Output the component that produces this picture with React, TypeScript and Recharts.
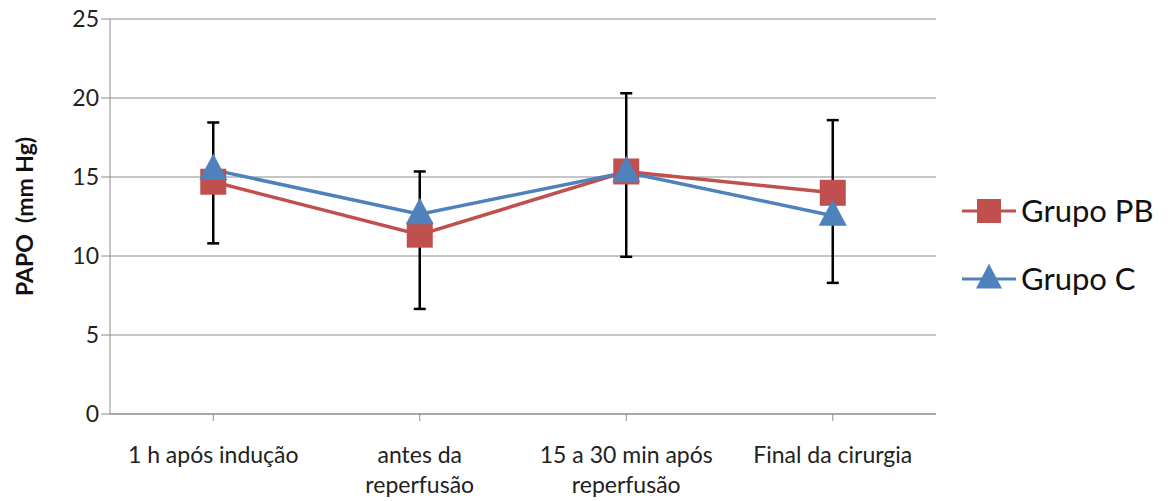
import { LineChart, Line, XAxis, YAxis, CartesianGrid, ErrorBar, Legend } from 'recharts';

const categories = ['1 h após indução', 'antes da\nreperfusão', '15 a 30 min após\nreperfusão', 'Final da cirurgia'];
const grupoPB = [14.7, 11.35, 15.35, 14.0];
const grupoC = [15.45, 12.65, 15.3, 12.55];
// asymmetric error bars on Grupo PB: [below, above]
const pbErrLow = [3.9, 4.7, 5.4, 5.7];
const pbErrHigh = [3.75, 4.0, 4.95, 4.6];
const yTicks = [0, 5, 10, 15, 20, 25];

const RED = '#C0504D';
const BLUE = '#4F81BD';
const FONT = 'Lato, "Open Sans", sans-serif';

const data = categories.map((name, i) => ({
    name,
    pb: grupoPB[i],
    c: grupoC[i],
    pbErr: [pbErrLow[i], pbErrHigh[i]],
}));

function Square({ cx, cy, size = 26 }: { cx: number; cy: number; size?: number }) {
    return <rect x={cx - size / 2} y={cy - size / 2} width={size} height={size} fill={RED} />;
}

function Triangle({ cx, cy, size = 28 }: { cx: number; cy: number; size?: number }) {
    const h = size * 0.95;
    const top = cy - h * 0.62;
    const bottom = cy + h * 0.38;
    return (
        <polygon
            points={`${cx},${top} ${cx - size / 2},${bottom} ${cx + size / 2},${bottom}`}
            fill={BLUE}
        />
    );
}

function CategoryTick({ x, y, payload }: any) {
    const lines = String(payload.value).split('\n');
    return (
        <text x={x} y={y + 40} textAnchor="middle" fill="#222" fontSize={23} fontFamily={FONT}>
            {lines.map((l, i) => (
                <tspan key={i} x={x} dy={i === 0 ? 0 : 30}>
                    {l}
                </tspan>
            ))}
        </text>
    );
}

function LegendBox() {
    const items = [
        { label: 'Grupo PB', color: RED, marker: 'square' },
        { label: 'Grupo C', color: BLUE, marker: 'triangle' },
    ];
    return (
        <svg width={236} height={120}>
            {items.map((it, i) => {
                const cy = 21 + i * 68;
                return (
                    <g key={it.label}>
                        <line x1={26} x2={80} y1={cy} y2={cy} stroke={it.color} strokeWidth={3} />
                        {it.marker === 'square' ? (
                            <Square cx={53} cy={cy} size={24} />
                        ) : (
                            <Triangle cx={53} cy={cy} size={26} />
                        )}
                        <text x={85} y={cy + 11} fontSize={31} fontFamily={FONT} fill="#111">
                            {it.label}
                        </text>
                    </g>
                );
            })}
        </svg>
    );
}

export default function App() {
    return (
        <div style={{ position: 'absolute', left: 0, top: 0, background: '#fff' }}>
            <LineChart width={1172} height={501} data={data} margin={{ top: 19, right: 0, bottom: 0, left: 0 }}>
                <CartesianGrid vertical={false} stroke="#8c8c8c" strokeWidth={1} />
                <XAxis
                    dataKey="name"
                    scale="band"
                    height={87}
                    interval={0}
                    stroke="#8c8c8c"
                    tickSize={7}
                    tick={<CategoryTick />}
                />
                <YAxis
                    width={110}
                    domain={[0, 25]}
                    ticks={yTicks}
                    stroke="#8c8c8c"
                    tickSize={9}
                    tick={{ fill: '#222', fontSize: 23, fontFamily: FONT }}
                    label={{
                        value: 'PAPO\u00A0\u00A0(mm Hg)',
                        angle: -90,
                        position: 'insideLeft',
                        offset: 25,
                        style: { textAnchor: 'middle', fontWeight: 'bold', fontSize: 23, fontFamily: FONT, fill: '#111' },
                    }}
                />
                <Legend
                    layout="vertical"
                    align="right"
                    verticalAlign="middle"
                    width={236}
                    content={<LegendBox />}
                    wrapperStyle={{ top: 190 }}
                />
                <Line
                    dataKey="pb"
                    name="Grupo PB"
                    stroke={RED}
                    strokeWidth={3.5}
                    isAnimationActive={false}
                    dot={(p: any) => <Square key={`pb-${p.index}`} cx={p.cx} cy={p.cy} />}
                    activeDot={false}
                >
                    <ErrorBar dataKey="pbErr" width={6} stroke="#000" strokeWidth={2.5} direction="y" />
                </Line>
                <Line
                    dataKey="c"
                    name="Grupo C"
                    stroke={BLUE}
                    strokeWidth={3.5}
                    isAnimationActive={false}
                    dot={(p: any) => <Triangle key={`c-${p.index}`} cx={p.cx} cy={p.cy} />}
                    activeDot={false}
                />
            </LineChart>
        </div>
    );
}
